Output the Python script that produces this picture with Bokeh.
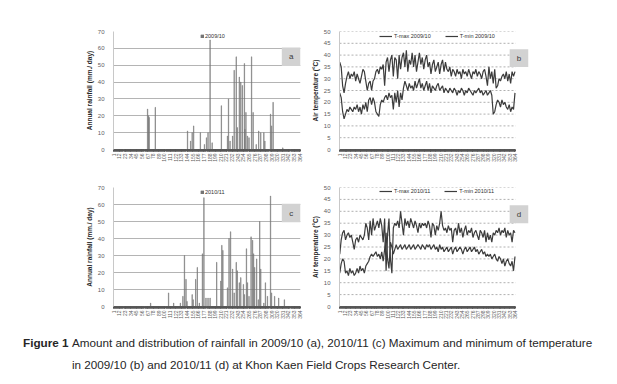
import math
from bokeh.plotting import figure
from bokeh.layouts import column, row
from bokeh.models import (Range1d, FixedTicker, Legend, LegendItem,
                          BoxAnnotation, Label, Div)
from bokeh.embed import file_html
from bokeh.resources import INLINE

# ---------------- data ----------------
tick_days = [1, 12, 23, 34, 45, 56, 67, 78, 89, 100, 111, 122, 133, 144, 155,
             166, 177, 188, 199, 210, 221, 232, 243, 254, 265, 276, 287, 298,
             309, 320, 331, 342, 353, 364]
rain_ticks = [0, 10, 20, 30, 40, 50, 60, 70]
temp_ticks = [0, 5, 10, 15, 20, 25, 30, 35, 40, 45, 50]

# rainfall 2009/10 (only rainy days; all other days 0 mm)
rain_a_days = [67, 69, 70, 82, 145, 151, 154, 157, 170, 178, 182, 185, 189, 193,
               211, 223, 225, 228, 233, 236, 240, 242, 246, 249, 252, 256, 257,
               259, 262, 265, 270, 273, 279, 284, 288, 294, 296, 307, 309, 312, 331]
rain_a_mm = [24, 20, 19, 25, 11, 5, 10, 14, 10, 3, 7, 10, 65, 4,
             26, 8, 30, 5, 8, 47, 55, 13, 43, 40, 38, 51, 12,
             22, 8, 7, 55, 22, 3, 11, 10, 10, 5, 21, 14, 28, 1]

# rainfall 2010/11
rain_c_days = [73, 108, 118, 131, 136, 139, 142, 144, 154, 156, 161, 164, 168,
               174, 177, 181, 185, 189, 202, 210, 212, 214, 223, 226, 229, 233,
               236, 240, 242, 246, 249, 254, 256, 260, 262, 265, 269, 272, 274,
               276, 280, 283, 286, 288, 294, 297, 301, 307, 309, 315, 323, 334]
rain_c_mm = [2, 8, 2, 2, 6, 30, 16, 3, 7, 4, 16, 23, 2,
             31, 64, 5, 5, 5, 26, 15, 36, 33, 11, 40, 44, 22,
             8, 26, 21, 14, 17, 13, 7, 34, 14, 6, 41, 39, 31,
             23, 28, 4, 50, 22, 2, 14, 6, 65, 8, 6, 5, 4]

# temperatures, one value every 3rd day (day 1, 4, 7, ...)
tmax_a = [37, 35, 27, 24, 28, 31, 33, 30, 32, 31,
          33, 29, 32, 30, 28, 31, 34, 33, 29, 25,
          28, 29, 25, 29, 30, 33, 34, 32, 35, 34,
          36, 27, 37, 39, 33, 38, 40, 31, 39, 38,
          30, 40, 34, 39, 41, 35, 42, 33, 38, 36,
          41, 35, 40, 33, 37, 41, 36, 39, 34, 38,
          40, 35, 37, 32, 36, 38, 33, 35, 37, 32,
          36, 38, 33, 37, 34, 33, 35, 31, 34, 33,
          31, 34, 32, 33, 30, 34, 32, 33, 31, 34,
          32, 30, 33, 32, 34, 31, 33, 32, 30, 33,
          34, 31, 27, 35, 30, 33, 28, 34, 26, 27,
          30, 29, 31, 32, 30, 33, 29, 32, 28, 33,
          31, 33]
tmin_a = [24, 22, 16, 13, 15, 17, 16, 18, 17, 16,
          18, 17, 19, 16, 18, 15, 19, 17, 20, 16,
          21, 22, 19, 22, 20, 16, 15, 14, 19, 21,
          20, 22, 23, 21, 24, 22, 23, 17, 24, 20,
          25, 18, 24, 21, 26, 29, 27, 25, 28, 26,
          27, 25, 29, 26, 28, 30, 26, 28, 25, 27,
          29, 25, 28, 24, 27, 26, 25, 27, 28, 25,
          26, 27, 24, 26, 25, 24, 26, 25, 24, 26,
          25, 23, 25, 24, 26, 25, 23, 25, 24, 26,
          25, 24, 23, 25, 24, 25, 26, 24, 25, 23,
          24, 25, 23, 24, 25, 23, 15, 16, 19, 21,
          20, 18, 21, 19, 20, 18, 17, 19, 16, 18,
          17, 24]
tmax_c = [22, 28, 31, 32, 28, 30, 31, 29, 30, 27,
          24, 28, 29, 27, 30, 29, 28, 30, 35, 33,
          28, 36, 30, 37, 32, 34, 36, 33, 37, 34,
          27, 37, 15, 30, 37, 20, 14, 33, 35, 34,
          36, 33, 40, 35, 30, 37, 34, 36, 33, 37,
          35, 33, 36, 34, 31, 35, 33, 35, 34, 35,
          33, 36, 34, 29, 35, 34, 30, 34, 32, 35,
          40, 34, 32, 33, 31, 34, 32, 33, 27, 32,
          33, 30, 35, 31, 33, 29, 32, 34, 30, 32,
          31, 33, 29, 31, 32, 30, 28, 32, 31, 29,
          32, 27, 31, 28, 30, 27, 31, 30, 32, 31,
          33, 30, 32, 31, 33, 29, 32, 30, 31, 27,
          32, 31]
tmin_c = [14, 18, 20, 19, 14, 15, 13, 16, 14, 15,
          13, 14, 16, 14, 17, 15, 16, 14, 17, 18,
          19, 21, 22, 21, 22, 23, 21, 22, 20, 23,
          19, 24, 31, 20, 16, 27, 25, 22, 24, 26,
          24, 25, 26, 24, 25, 26, 24, 25, 26, 24,
          25, 26, 24, 25, 26, 25, 24, 26, 25, 24,
          26, 25, 26, 24, 25, 26, 24, 25, 23, 26,
          24, 25, 23, 24, 25, 23, 24, 25, 22, 24,
          25, 23, 24, 25, 24, 22, 24, 25, 23, 24,
          25, 23, 24, 25, 23, 24, 22, 23, 24, 22,
          23, 21, 22, 21, 22, 20, 21, 22, 20, 19,
          21, 20, 18, 20, 17, 19, 20, 18, 17, 19,
          15, 21]

FONT = "Liberation Sans"
BAR = "#767676"
LINE = "#3c3c3c"
DAY0, DAY1 = 0.5, 365.5


def days_for(vals):
    return list(range(1, 1 + 3 * len(vals), 3))


def base_fig(w, h, bl, br, bt, bb, xmax, ymax, yticks, ylabel):
    p = figure(width=w, height=h, output_backend="svg", toolbar_location=None,
               x_range=Range1d(DAY0, xmax), y_range=Range1d(0, ymax),
               min_border_left=bl, min_border_right=br,
               min_border_top=bt, min_border_bottom=bb)
    p.outline_line_color = None
    p.background_fill_color = "white"
    p.border_fill_color = "white"
    p.xgrid.visible = False

    xa = p.xaxis[0]
    xa.bounds = (DAY0, DAY1)
    xa.ticker = FixedTicker(ticks=tick_days, minor_ticks=list(range(1, 366)))
    xa.major_label_orientation = math.pi / 2
    xa.major_label_text_font_size = "5px"
    xa.major_label_text_font = FONT
    xa.major_label_text_color = "#606060"
    xa.major_label_standoff = 2
    xa.axis_line_color = "#6a6a6a"
    xa.major_tick_line_color = "#555555"
    xa.minor_tick_line_color = "#555555"
    xa.major_tick_in = 0
    xa.major_tick_out = 2
    xa.minor_tick_in = 0
    xa.minor_tick_out = 2

    ya = p.yaxis[0]
    ya.ticker = FixedTicker(ticks=yticks)
    ya.axis_label = ylabel
    ya.axis_label_text_font = FONT
    ya.axis_label_text_font_size = "6.5px"
    ya.axis_label_text_font_style = "bold"
    ya.axis_label_text_color = "#262626"
    ya.axis_label_standoff = 2
    ya.major_label_text_font = FONT
    ya.major_label_text_font_size = "6px"
    ya.major_label_text_color = "#606060"
    ya.major_label_standoff = 3
    ya.axis_line_color = "#c8c8c8"
    ya.major_tick_line_color = None
    ya.minor_tick_line_color = None
    return p


def add_box(p, left, right, bottom, top, letter):
    p.add_layout(BoxAnnotation(left=left, right=right, bottom=bottom, top=top,
                               fill_color="#d2d2d2", fill_alpha=1.0,
                               line_color=None))
    p.add_layout(Label(x=(left + right) / 2, y=(bottom + top) / 2, text=letter,
                       text_align="center", text_baseline="middle",
                       text_font=FONT, text_font_size="8px",
                       text_color="#3a3a3a"))


def rain_fig(days, mm, label, letter, h, bt, bb):
    p = base_fig(308, h, 113, 8, bt, bb, DAY1, 70, rain_ticks,
                 "Annual rainfall (mm./ day)")
    p.ygrid.ticker = FixedTicker(ticks=rain_ticks)
    p.ygrid.grid_line_color = "#b4b4b4"
    p.ygrid.grid_line_width = 1
    r = p.vbar(x=days, top=mm, bottom=0, width=0.9, fill_color=BAR,
               line_color=BAR, line_width=0.5)
    leg = Legend(items=[LegendItem(label=label, renderers=[r])],
                 location=(87, h - bt - bb - 8), orientation="horizontal",
                 border_line_color=None, background_fill_alpha=0,
                 padding=0, margin=0, glyph_width=4, glyph_height=4,
                 label_height=6, label_standoff=1,
                 label_text_font=FONT, label_text_font_size="5.5px",
                 label_text_color="#303030")
    p.add_layout(leg)
    add_box(p, 329, DAY1, 49.5, 60.5, letter)
    return p


def temp_fig(tmax, tmin, year, letter, h, bt, bb):
    p = base_fig(230, h, 29, 10, bt, bb, 392, 50, temp_ticks,
                 "Air temperature (°C)")
    p.ygrid.visible = False
    grid_y = temp_ticks[1:]
    p.segment(x0=[DAY0] * len(grid_y), x1=[DAY1] * len(grid_y),
              y0=grid_y, y1=grid_y, line_color="#b0b0b0", line_width=1,
              line_dash="2 2")
    l1 = p.line(days_for(tmax), tmax, line_color=LINE, line_width=1.2)
    l2 = p.line(days_for(tmin), tmin, line_color=LINE, line_width=1.2)
    leg = Legend(items=[LegendItem(label="T-max " + year, renderers=[l1]),
                        LegendItem(label="T-min " + year, renderers=[l2])],
                 location=(40, h - bt - bb - 8), orientation="horizontal",
                 border_line_color=None, background_fill_alpha=0,
                 padding=0, margin=0, glyph_width=13, glyph_height=6,
                 label_height=6, label_standoff=2, spacing=14,
                 label_text_font=FONT, label_text_font_size="5.5px",
                 label_text_color="#303030")
    p.add_layout(leg)
    add_box(p, 353, 392, 35, 42.5, letter)
    return p


fa = rain_fig(rain_a_days, rain_a_mm, "2009/10", "a", 168, 31, 19)
fb = temp_fig(tmax_a, tmin_a, "2009/10", "b", 168, 31, 19)
fc = rain_fig(rain_c_days, rain_c_mm, "2010/11", "c", 157, 19, 19)
fd = temp_fig(tmax_c, tmin_c, "2010/11", "d", 157, 18, 19)

caption_html = (
    '<div style="font-family:\'Liberation Sans\',Arial,sans-serif;'
    'font-size:11.7px;line-height:22px;color:#262626;padding-top:2px;'
    'padding-left:67px;text-indent:-49px;white-space:nowrap;">'
    '<span style="font-weight:bold;display:inline-block;width:49px;'
    'text-indent:0;">Figure 1</span>'
    'Amount and distribution of rainfall in 2009/10 (a), 2010/11 (c) '
    'Maximum and minimum of temperature<br>'
    'in 2009/10 (b) and 2010/11 (d) at Khon Kaen Field Crops Research Center.'
    '</div>'
)
cap = Div(text=caption_html, width=605, height=52)

layout = column(row(fa, fb), row(fc, fd), cap)
open("out.html", "w").write(file_html(layout, INLINE))
